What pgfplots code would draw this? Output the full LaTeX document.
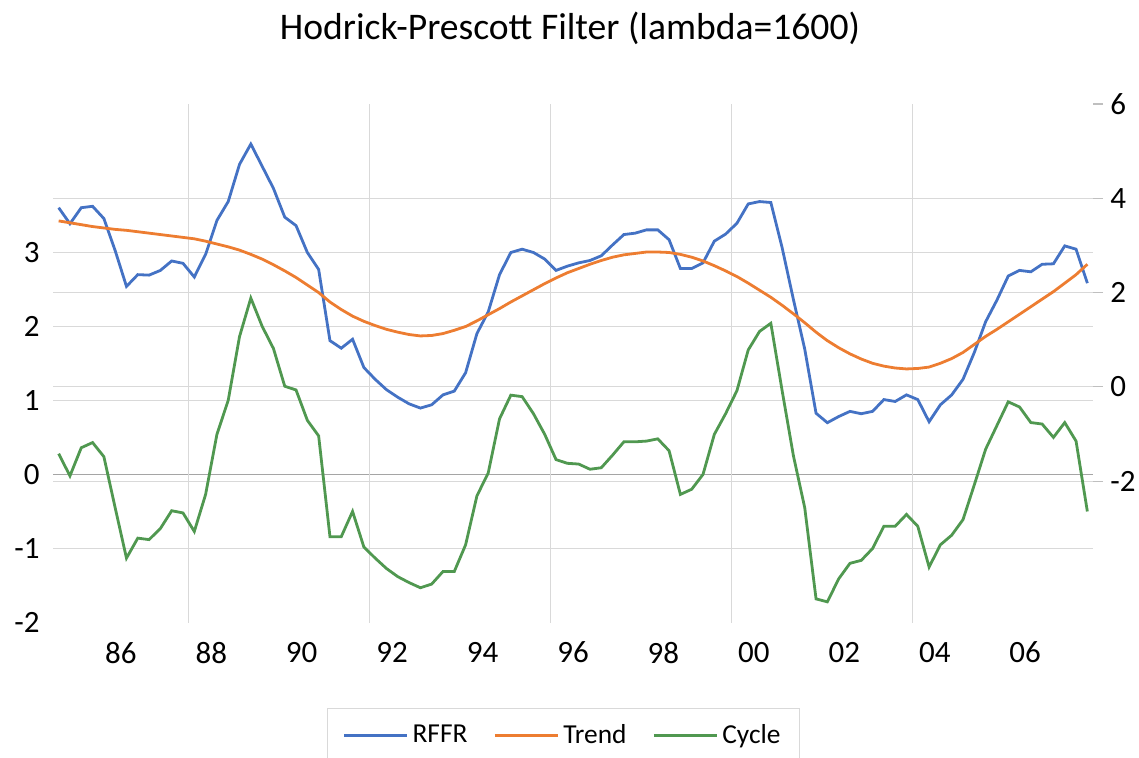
\documentclass[border=0pt]{standalone}
\usepackage{fontspec}
\setmainfont{Carlito}
\usepackage{pgfplots}
\usepackage{pgfplotstable}
\pgfplotsset{compat=1.18}
\definecolor{rffrc}{RGB}{68,114,196}
\definecolor{trendc}{RGB}{237,125,49}
\definecolor{cyclec}{RGB}{80,152,80}
\definecolor{gridc}{RGB}{217,217,217}
\definecolor{zeroc}{RGB}{165,165,165}

\pgfplotstableread{
i rffr trend cycle
0 3.80 3.52 0.28
1 3.46 3.48 -0.02
2 3.80 3.44 0.36
3 3.83 3.40 0.43
4 3.57 3.37 0.24
5 2.89 3.34 -0.45
6 2.13 3.32 -1.13
7 2.38 3.29 -0.86
8 2.37 3.26 -0.88
9 2.47 3.23 -0.73
10 2.67 3.20 -0.49
11 2.62 3.17 -0.52
12 2.33 3.14 -0.77
13 2.81 3.09 -0.27
14 3.53 3.03 0.54
15 3.93 2.97 1.00
16 4.72 2.90 1.86
17 5.15 2.81 2.38
18 4.68 2.71 2.00
19 4.21 2.59 1.70
20 3.60 2.46 1.19
21 3.42 2.32 1.14
22 2.85 2.16 0.73
23 2.49 2.00 0.52
24 0.98 1.80 -0.84
25 0.82 1.64 -0.84
26 1.01 1.50 -0.50
27 0.41 1.39 -0.98
28 0.16 1.30 -1.13
29 -0.06 1.22 -1.27
30 -0.22 1.16 -1.38
31 -0.36 1.11 -1.46
32 -0.45 1.08 -1.53
33 -0.38 1.09 -1.48
34 -0.17 1.13 -1.31
35 -0.09 1.20 -1.31
36 0.30 1.28 -0.95
37 1.13 1.40 -0.29
38 1.59 1.53 0.02
39 2.38 1.66 0.75
40 2.85 1.80 1.07
41 2.92 1.93 1.05
42 2.85 2.06 0.82
43 2.71 2.19 0.54
44 2.47 2.31 0.20
45 2.56 2.42 0.15
46 2.63 2.51 0.14
47 2.68 2.60 0.07
48 2.78 2.68 0.09
49 3.01 2.75 0.26
50 3.23 2.80 0.44
51 3.26 2.83 0.44
52 3.33 2.86 0.45
53 3.33 2.86 0.48
54 3.12 2.85 0.32
55 2.51 2.81 -0.27
56 2.51 2.75 -0.20
57 2.63 2.67 0.00
58 3.09 2.57 0.54
59 3.24 2.46 0.82
60 3.47 2.34 1.13
61 3.88 2.20 1.68
62 3.93 2.05 1.93
63 3.91 1.90 2.04
64 2.95 1.73 1.13
65 1.85 1.55 0.25
66 0.80 1.36 -0.45
67 -0.56 1.16 -1.68
68 -0.76 0.98 -1.72
69 -0.63 0.83 -1.41
70 -0.52 0.70 -1.20
71 -0.57 0.59 -1.16
72 -0.52 0.50 -1.00
73 -0.27 0.44 -0.70
74 -0.31 0.40 -0.70
75 -0.17 0.38 -0.54
76 -0.27 0.39 -0.70
77 -0.74 0.42 -1.25
78 -0.38 0.50 -0.95
79 -0.17 0.60 -0.82
80 0.16 0.73 -0.61
81 0.73 0.90 -0.14
82 1.38 1.07 0.34
83 1.84 1.22 0.66
84 2.35 1.38 0.98
85 2.47 1.54 0.91
86 2.44 1.70 0.70
87 2.60 1.86 0.68
88 2.61 2.02 0.50
89 2.99 2.20 0.70
90 2.92 2.38 0.45
91 2.20 2.60 -0.50
}\hpdata

\begin{document}
\begin{tikzpicture}
\useasboundingbox (0,0) rectangle (569.5pt,379pt);
\node[font=\fontsize{18.8}{22}\selectfont, anchor=base, inner sep=0pt] at (285pt,359pt) {Hodrick-Prescott Filter (lambda=1600)};
\begin{axis}[
  at={(26.5pt,67.7pt)}, anchor=south west,
  scale only axis, width=520pt, height=259.3pt,
  xmin=-0.5, xmax=91.5, ymin=-2, ymax=5,
  axis lines*=left, axis line style={draw=none},
  major tick length=0pt,
  xtick={5.5,13.5,...,85.5},
  xticklabels={86,88,90,92,94,96,98,00,02,04,06},
  ytick={-2,-1,0,1,2,3},
  yticklabels={-2,-1,0,1,2,3},
  ticklabel style={font=\fontsize{15.5}{18}\selectfont},
  xticklabel style={inner sep=0pt, yshift=-9.5pt},
  yticklabel style={inner sep=0pt, xshift=-6.5pt},
  extra x ticks={11.5,27.5,43.5,59.5,75.5},
  extra x tick labels={},
  extra x tick style={grid=major, major grid style={gridc, line width=0.55pt}, major tick length=0pt},
  extra y ticks={-1,1,2,3,-0.0909,1.1818,2.4545,3.7273},
  extra y tick labels={},
  extra y tick style={grid=major, major grid style={gridc, line width=0.55pt}, major tick length=0pt},
  minor ytick={0}, yminorgrids=true, minor grid style={zeroc, line width=0.7pt}, minor tick length=0pt,
]
\addplot[cyclec, line width=1.4pt] table[x=i, y=cycle]{\hpdata};
\end{axis}
\begin{axis}[
  at={(26.5pt,67.7pt)}, anchor=south west,
  scale only axis, width=520pt, height=259.3pt,
  xmin=-0.5, xmax=91.5, ymin=-5, ymax=6,
  hide x axis,
  axis y line*=right, y axis line style={draw=none},
  ytick={-2,0,2,4,6}, yticklabels={-2,0,2,4,6},
  tick align=outside, major tick length=5pt,
  ytick style={draw=black!25, line width=0.6pt},
  yticklabel style={font=\fontsize{15.5}{18}\selectfont, inner sep=0pt, xshift=3.5pt},
  legend style={at={(0.491,-0.164)}, anchor=north, draw=gridc, line width=0.7pt,
    font=\fontsize{13.7}{16}\selectfont, inner xsep=7.5pt, inner ysep=6pt,
    /tikz/every even column/.append style={column sep=11pt}},
  legend columns=-1,
  legend image code/.code={\draw[#1] (0pt,0pt) -- (31.5pt,0pt);},
]
\addplot[rffrc, line width=1.4pt] table[x=i, y=rffr]{\hpdata};
\addplot[trendc, line width=1.4pt] table[x=i, y=trend]{\hpdata};
\addlegendimage{cyclec, line width=1.4pt}
\legend{RFFR,Trend,Cycle}
\end{axis}
\end{tikzpicture}
\end{document}
